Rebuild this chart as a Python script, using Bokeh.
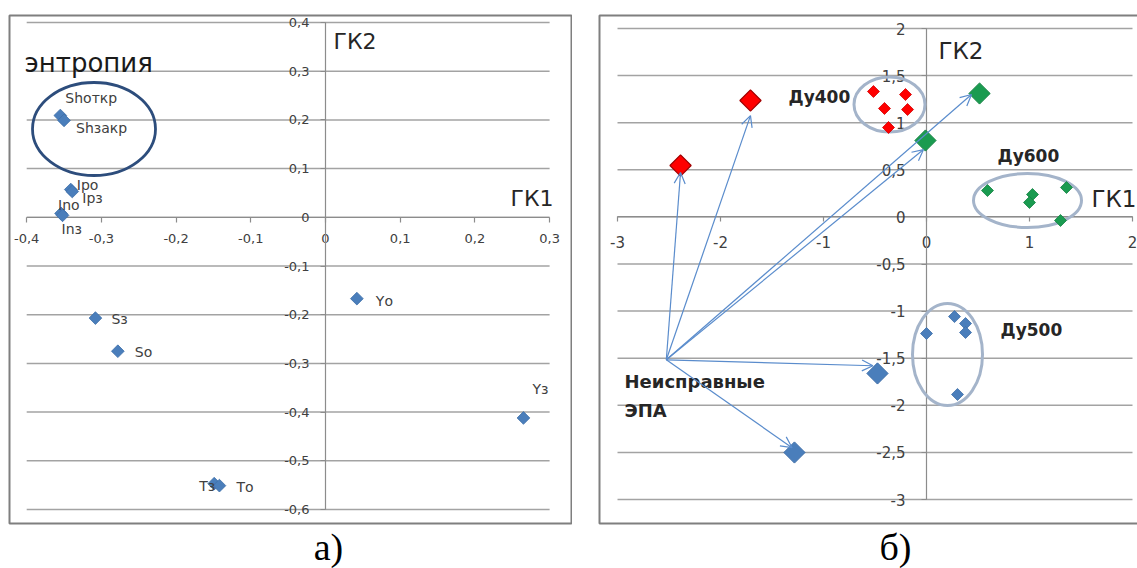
import numpy as np
from bokeh.plotting import figure
from bokeh.models import (FixedTicker, CustomJSTickFormatter, Arrow, OpenHead,
                          ColumnDataSource)
from bokeh.layouts import row
from bokeh.core.properties import value
from bokeh.embed import file_html
from bokeh.resources import INLINE

# ---------------- panel а) : entropy loadings ----------------
a_names = ["Shоткр", "Shзакр", "Ipо", "Ipз", "Inо", "Inз",
           "Sз", "Sо", "Yо", "Yз", "Tз", "Tо"]
a_gk1 = [-0.355, -0.350, -0.341, -0.339, -0.354, -0.352,
         -0.308, -0.278, 0.042, 0.265, -0.149, -0.142]
a_gk2 = [0.209, 0.199, 0.057, 0.053, 0.008, 0.004,
         -0.207, -0.275, -0.167, -0.412, -0.547, -0.551]
a_x_ticks = [-0.4, -0.3, -0.2, -0.1, 0.0, 0.1, 0.2, 0.3]
a_y_ticks = [0.4, 0.3, 0.2, 0.1, 0.0, -0.1, -0.2, -0.3, -0.4, -0.5, -0.6]

# ---------------- panel б) : valve groups ----------------
red_small_x = [-0.515, -0.204, -0.408, -0.184, -0.369]
red_small_y = [1.331, 1.299, 1.151, 1.140, 0.949]
red_big_x = [-1.709, -2.388]
red_big_y = [1.236, 0.546]
green_big_x = [0.515, -0.010]
green_big_y = [1.310, 0.811]
green_small_x = [0.592, 1.029, 1.000, 1.359, 1.301]
green_small_y = [0.280, 0.238, 0.153, 0.312, -0.038]
blue_small_x = [0.000, 0.272, 0.379, 0.379, 0.301]
blue_small_y = [-1.238, -1.058, -1.132, -1.227, -1.885]
blue_big_x = [-0.476, -1.282]
blue_big_y = [-1.662, -2.501]
arrow_from = (-2.526, -1.517)
arrow_to_x = [-2.388, -1.709, 0.437, -0.029, -0.520, -1.305]
arrow_to_y = [0.471, 1.075, 1.299, 0.715, -1.580, -2.450]
b_x_ticks = [-3, -2, -1, 0, 1, 2]
b_y_ticks = [2, 1.5, 1, 0.5, 0, -0.5, -1, -1.5, -2, -2.5, -3]

# ---------------- pixel geometry (image coordinates) ----------------
A_X0, A_SX, A_Y0, A_SY = 325.0, 747.0, 216.8, 487.0
B_X0, B_SX, B_Y0, B_SY = 926.0, 103.0, 216.4, 94.2
def ax_(px): return (px - A_X0) / A_SX
def ay_(py): return (A_Y0 - py) / A_SY
def bx_(px): return (px - B_X0) / B_SX
def by_(py): return (B_Y0 - py) / B_SY

FONT = "DejaVu Sans"
GRID = "#a3a3a3"
AXC = "#8c8c8c"
TXT = "#404040"
H = 568
SPLIT = 572


def style_axes(p, xb, yb, xt, yt, fmt, fs, xso, yso):
    for ax, b, t in ((p.xaxis[0], xb, xt), (p.yaxis[0], yb, yt)):
        ax.fixed_location = 0
        ax.bounds = b
        ax.ticker = FixedTicker(ticks=t)
        ax.formatter = CustomJSTickFormatter(code=fmt)
        ax.axis_line_color = AXC
        ax.axis_line_width = 1.2
        ax.major_tick_line_color = AXC
        ax.major_tick_line_width = 1.2
        ax.major_tick_in = 0
        ax.major_tick_out = 5
        ax.minor_tick_line_color = None
        ax.major_label_text_font = FONT
        ax.major_label_text_font_size = fs
        ax.major_label_text_color = TXT
        ax.level = "underlay"
    p.xaxis[0].major_label_standoff = xso
    p.yaxis[0].major_label_standoff = yso
    p.grid.visible = False


# ====================== left figure ======================
p1 = figure(width=SPLIT, height=H, x_range=(ax_(0), ax_(SPLIT)), y_range=(ay_(H), ay_(0)),
            output_backend="svg", toolbar_location=None, min_border=0)
p1.outline_line_color = None
p1.background_fill_color = "white"
p1.border_fill_color = "white"

fmt_a = "if (Math.abs(tick) < 1e-9) return '0'; return tick.toFixed(1).replace('.', ',');"
style_axes(p1, (-0.4, 0.3), (-0.6, 0.4), a_x_ticks, a_y_ticks, fmt_a, "13px", 12, 11)

# frame
p1.quad(left=ax_(9), right=ax_(571), top=ay_(15), bottom=ay_(523),
        fill_color=None, line_color="#7f7f7f", line_width=2, level="image")
# horizontal grid lines
p1.segment(x0=[a_x_ticks[0]] * len(a_y_ticks), x1=[a_x_ticks[-1]] * len(a_y_ticks),
           y0=a_y_ticks, y1=a_y_ticks, line_color=GRID, line_width=1.5, level="image")

# circle around the Sh-pair
p1.ellipse(x=ax_(93.5), y=ay_(128.5), width=123 / A_SX, height=93 / A_SY,
           fill_color=None, line_color="#2d4d7c", line_width=2.8)

p1.scatter(a_gk1, a_gk2, marker="square", angle=np.pi / 4, size=9,
           fill_color="#4a7ebb", line_color="#3e6ea8", line_width=0.8)

a_dx = [5, 12, 6, 10, -3, -1, 16, 17, 19, 9, -15, 17]
a_dy = [-18, 8, -5, 7, -8, 14, 1, 1, 2, -29, 2, 1]
a_lx = [x + dx / A_SX for x, dx in zip(a_gk1, a_dx)]
a_ly = [y - dy / A_SY for y, dy in zip(a_gk2, a_dy)]
p1.text(a_lx, a_ly, text=a_names, text_font=value(FONT), text_font_size="14px",
        text_color=TXT, text_align="left", text_baseline="middle")

p1.text([ax_(24)], [ay_(62)], text=["энтропия"], text_font=value(FONT),
        text_font_size="26px", text_color="#1a1a1a", text_baseline="middle")
p1.text([ax_(333), ax_(510)], [ay_(41), ay_(198)], text=["ГК2", "ГК1"],
        text_font=value(FONT), text_font_size="22px", text_color="#262626",
        text_baseline="middle")
p1.text([ax_(328)], [ay_(546)], text=["а)"], text_font=value("Liberation Serif"),
        text_font_size="38px", text_color="black", text_align="center",
        text_baseline="middle")

# ====================== right figure ======================
p2 = figure(width=1137 - SPLIT, height=H, x_range=(bx_(SPLIT), bx_(1137)), y_range=(by_(H), by_(0)),
            output_backend="svg", toolbar_location=None, min_border=0)
p2.outline_line_color = None
p2.background_fill_color = "white"
p2.border_fill_color = "white"

fmt_b = ("if (Math.abs(tick - Math.round(tick)) < 1e-9) return Math.round(tick).toString();"
         " return tick.toFixed(1).replace('.', ',');")
style_axes(p2, (-3, 2), (-3, 2), b_x_ticks, b_y_ticks, fmt_b, "15px", 14, 16)

p2.quad(left=bx_(599), right=bx_(1160), top=by_(15), bottom=by_(523),
        fill_color=None, line_color="#7f7f7f", line_width=2, level="image")
p2.segment(x0=[b_x_ticks[0]] * len(b_y_ticks), x1=[b_x_ticks[-1]] * len(b_y_ticks),
           y0=b_y_ticks, y1=b_y_ticks, line_color=GRID, line_width=1.5, level="image")

# group ellipses
p2.ellipse(x=[bx_(889), bx_(1027), bx_(947)], y=[by_(104), by_(200), by_(354)],
           width=[71 / B_SX, 108 / B_SX, 70 / B_SX], height=[55 / B_SY, 54 / B_SY, 102 / B_SY],
           fill_color=None, line_color="#a4b4ca", line_width=3)

# arrows from the faulty group
ARC = "#5a8ccc"
asrc = ColumnDataSource(dict(x0=[arrow_from[0]] * len(arrow_to_x), y0=[arrow_from[1]] * len(arrow_to_x),
                             x1=arrow_to_x, y1=arrow_to_y))
p2.add_layout(Arrow(end=OpenHead(size=11, line_color=ARC, line_width=1.2),
                    x_start="x0", y_start="y0", x_end="x1", y_end="y1", source=asrc,
                    line_color=ARC, line_width=1.2))

p2.scatter(red_small_x, red_small_y, marker="square", angle=np.pi / 4, size=8.5,
           fill_color="#ff0000", line_color="#d00000", line_width=0.8)
p2.scatter(red_big_x, red_big_y, marker="square", angle=np.pi / 4, size=15,
           fill_color="#ff0000", line_color="#a00000", line_width=1.2)
p2.scatter(green_small_x, green_small_y, marker="square", angle=np.pi / 4, size=8.5,
           fill_color="#1a9b50", line_color="#148242", line_width=0.8)
p2.scatter(green_big_x, green_big_y, marker="square", angle=np.pi / 4, size=15,
           fill_color="#1a9b50", line_color="#148242", line_width=1)
p2.scatter(blue_small_x, blue_small_y, marker="square", angle=np.pi / 4, size=8.5,
           fill_color="#4a7ebb", line_color="#3e6ea8", line_width=0.8)
p2.scatter(blue_big_x, blue_big_y, marker="square", angle=np.pi / 4, size=15,
           fill_color="#4a7ebb", line_color="#3e6ea8", line_width=1)

p2.text([bx_(788), bx_(997), bx_(1000)], [by_(96), by_(155), by_(329)],
        text=["Ду400", "Ду600", "Ду500"],
        text_font=value(FONT), text_font_size="17px", text_font_style="bold",
        text_color="#262626", text_baseline="middle")
p2.text([bx_(624), bx_(624)], [by_(381), by_(410)],
        text=["Неисправные", "ЭПА"],
        text_font=value(FONT), text_font_size="18px", text_font_style="bold",
        text_color="#262626", text_baseline="middle")
p2.text([bx_(938), bx_(1091)], [by_(50), by_(198)], text=["ГК2", "ГК1"],
        text_font=value(FONT), text_font_size="23px", text_color="#262626",
        text_baseline="middle")
p2.text([bx_(895)], [by_(546)], text=["б)"], text_font=value("Liberation Serif"),
        text_font_size="38px", text_color="black", text_align="center",
        text_baseline="middle")

layout = row(p1, p2, spacing=0)
open("out.html", "w").write(file_html(layout, INLINE))
